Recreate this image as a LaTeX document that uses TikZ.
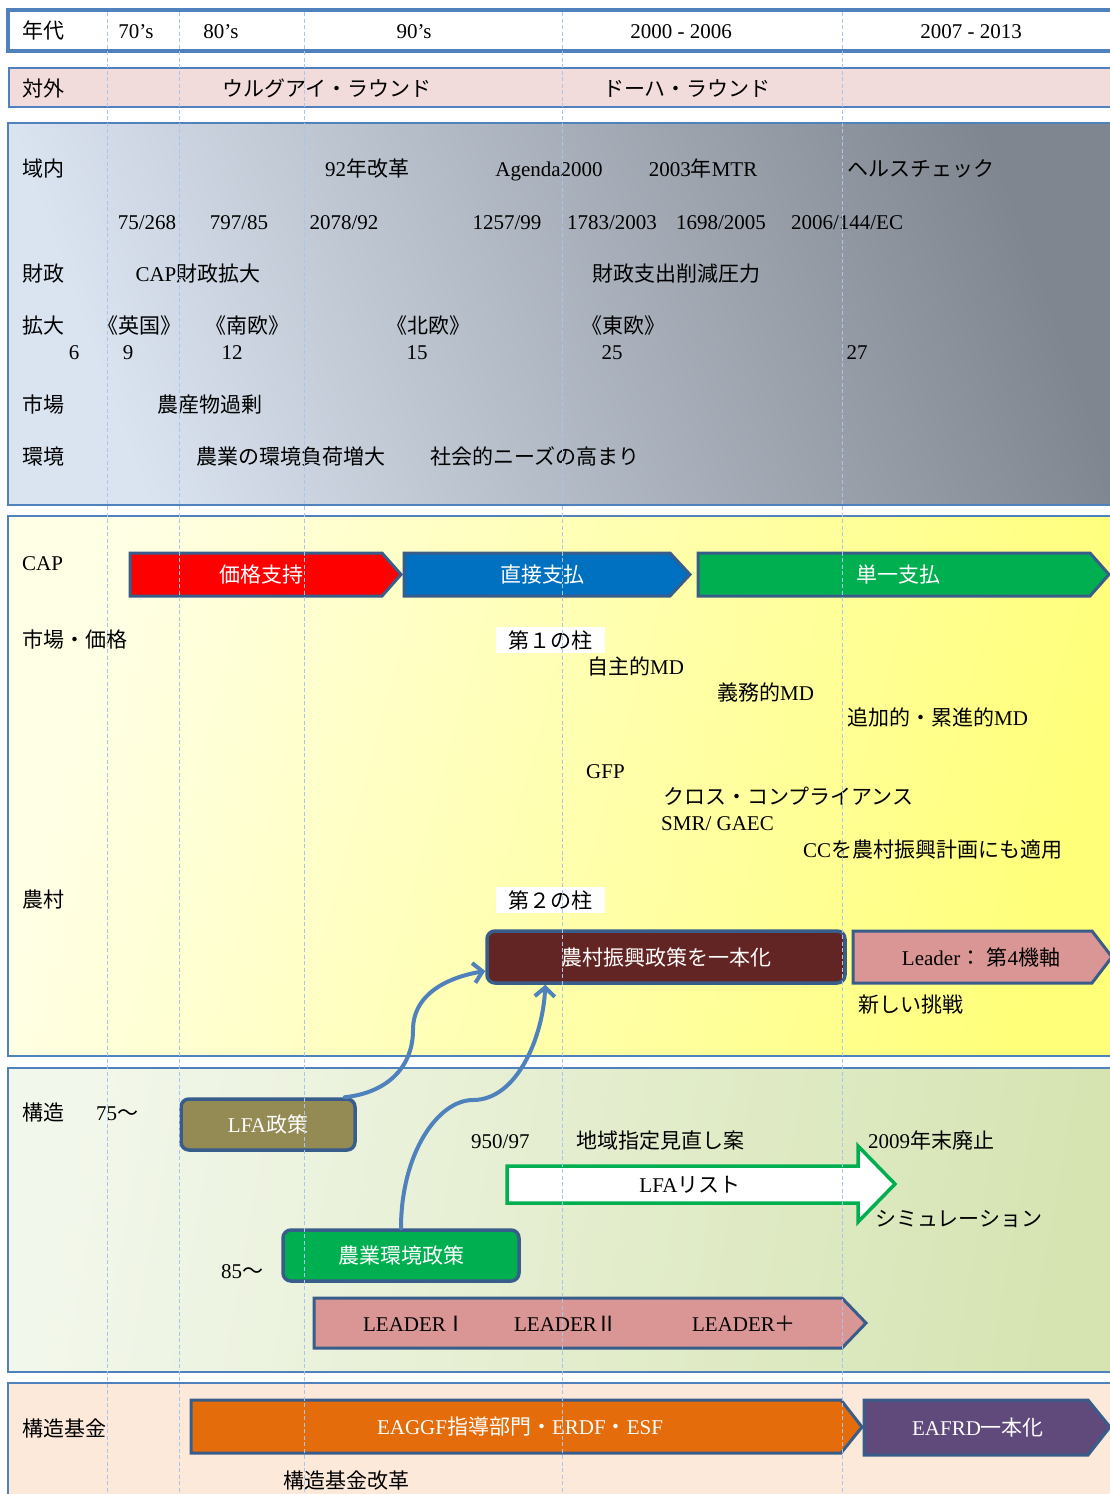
\documentclass[tikz,border=0pt]{standalone}
\usepackage{fontspec}
\setmainfont{Liberation Serif}
\newfontfamily\jp{Noto Sans CJK JP}
\usetikzlibrary{arrows.meta}
\definecolor{secblue}{HTML}{4F81BD}
\definecolor{arrblue}{HTML}{385D8A}
\definecolor{dashblue}{HTML}{A9C6EA}
\definecolor{connblue}{HTML}{4F81BD}
\definecolor{pinkbg}{HTML}{F2DCDB}
\definecolor{greyA}{HTML}{DAE3F0}
\definecolor{greyB}{HTML}{B4BCC9}
\definecolor{greyC}{HTML}{80868F}
\definecolor{yelA}{HTML}{FFFFE6}
\definecolor{yelB}{HTML}{FFFF7A}
\definecolor{grnA}{HTML}{F2F7EB}
\definecolor{grnB}{HTML}{D6E4B2}
\definecolor{peach}{HTML}{FDE9D9}
\definecolor{cred}{HTML}{FF0000}
\definecolor{cblue}{HTML}{0070C0}
\definecolor{cgreen}{HTML}{00B050}
\definecolor{cbrown}{HTML}{632523}
\definecolor{cpink}{HTML}{D99694}
\definecolor{colive}{HTML}{948A54}
\definecolor{corange}{HTML}{E46C0A}
\definecolor{cpurple}{HTML}{604A7B}
\begin{document}
\begin{tikzpicture}[x=1pt,y=-1pt,
  every node/.style={font=\fontsize{21}{24}\selectfont, inner sep=0pt},
  tl/.style={anchor=base west, yshift=-7.5pt},
  tc/.style={anchor=base, yshift=-7.5pt},
  sec/.style={draw=secblue, line width=1.2pt},
  arrshape/.style={draw=arrblue, line width=3pt, line join=miter},
  rbox/.style={draw=arrblue, line width=3.5pt, rounded corners=8pt, text=white},
  wt/.style={text=white},
  pillar/.style={fill=white, minimum width=109pt, minimum height=26pt},
  dline/.style={draw=dashblue, line width=0.9pt, dash pattern=on 4pt off 2.5pt},
  conn/.style={draw=connblue, line width=4pt, line cap=round, -{Straight Barb[length=9pt,width=20pt]}}
]
\useasboundingbox (0,0) rectangle (1110,1494);
\clip (0,0) rectangle (1110,1494);
\fill[white] (0,0) rectangle (1110,1494);

% ---- sections
\draw[line width=3.5pt, draw=secblue, fill=white] (8,10) rectangle (1125,51);
\draw[sec, fill=pinkbg] (9,68) rectangle (1125,107);
\draw[sec, top color=greyC, middle color=greyB, bottom color=greyA, shading angle=-70] (8,123) rectangle (1125,505);
\draw[sec, top color=yelB, bottom color=yelA, shading angle=-105] (8,516) rectangle (1125,1056);
\draw[sec, top color=grnB, bottom color=grnA, shading angle=-100] (8,1068) rectangle (1125,1372);
\draw[sec, fill=peach] (8,1383) rectangle (1125,1510);

% ---- header
\node[tl] (h0) at (22,31) {\jp 年代};
\node[tc] (h70) at (136,31) {70’s};
\node[tc] (h80) at (221,31) {80’s};
\node[tc] (h90) at (414,31) {90’s};
\node[tc] (h00) at (681,31) {2000 - 2006};
\node[tc] (h07) at (971,31) {2007 - 2013};

% ---- external
\node[tl] (ext) at (22,89) {\jp 対外};
\node[tc] (ur) at (327,89) {\jp ウルグアイ・ラウンド};
\node[tc] (doha) at (687,89) {\jp ドーハ・ラウンド};

% ---- grey section
\node[tl] (l1) at (22,169) {\jp 域内};
\node[tc] (r92) at (367,169) {92{\jp 年改革}};
\node[tc] (ag) at (549,169) {Agenda2000};
\node[tc] (mtr) at (703,169) {2003{\jp 年}MTR};
\node[tl] (hc) at (847,169) {\jp ヘルスチェック};

\node[tc] (g1) at (147,222) {75/268};
\node[tc] (g2) at (239,222) {797/85};
\node[tc] (g3) at (344,222) {2078/92};
\node[tc] (g4) at (507,222) {1257/99};
\node[tc] (g5) at (612,222) {1783/2003};
\node[tc] (g6) at (721,222) {1698/2005};
\node[tc] (g7) at (847,222) {2006/144/EC};

\node[tl] (l2) at (22,274) {\jp 財政};
\node[tc] (fin1) at (198,274) {CAP{\jp 財政拡大}};
\node[tc] (fin2) at (676,274) {\jp 財政支出削減圧力};

\node[tl] (l3) at (22,326) {\jp 拡大};
\node[tc] (e1) at (139,326) {\jp 《英国》};
\node[tc] (e2) at (247,326) {\jp 《南欧》};
\node[tc] (e3) at (428,326) {\jp 《北欧》};
\node[tc] (e4) at (623,326) {\jp 《東欧》};
\node[tc] (n6) at (74,352) {6};
\node[tc] (n9) at (128,352) {9};
\node[tc] (n12) at (232,352) {12};
\node[tc] (n15) at (417,352) {15};
\node[tc] (n25) at (612,352) {25};
\node[tc] (n27) at (857,352) {27};

\node[tl] (l4) at (22,405) {\jp 市場};
\node[tc] (mk) at (210,405) {\jp 農産物過剰};
\node[tl] (l5) at (22,457) {\jp 環境};
\node[tc] (env1) at (291,457) {\jp 農業の環境負荷増大};
\node[tc] (env2) at (535,457) {\jp 社会的ニーズの高まり};

% ---- yellow section
\node[tl] (l6) at (22,563) {CAP};
\draw[arrshape, fill=cred] (130,553) -- (382,553) -- (401,574.5) -- (382,596) -- (130,596) -- cycle;
\node[tc, wt] (price) at (261,575) {\jp 価格支持};
\draw[arrshape, fill=cblue] (404,553) -- (670,553) -- (690,574.5) -- (670,596) -- (404,596) -- cycle;
\node[tc, wt] (direct) at (542,575) {\jp 直接支払};
\draw[arrshape, fill=cgreen] (698,553) -- (1090,553) -- (1109,574.5) -- (1090,596) -- (698,596) -- cycle;
\node[tc, wt] (single) at (898,575) {\jp 単一支払};

\node[tl] (l7) at (22,640) {\jp 市場・価格};
\node[pillar] (p1) at (550.5,640) {\jp 第１の柱};
\node[tl] (md1) at (587,667) {{\jp 自主的}MD};
\node[tl] (md2) at (717,693) {{\jp 義務的}MD};
\node[tl] (md3) at (847,718) {{\jp 追加的・累進的}MD};
\node[tl] (gfp) at (586,771) {GFP};
\node[tl] (cc) at (663,797) {\jp クロス・コンプライアンス};
\node[tl] (smr) at (661,823) {SMR/ GAEC};
\node[tl] (cc2) at (803,850) {CC{\jp を農村振興計画にも適用}};

\node[tl] (l8) at (22,900) {\jp 農村};
\node[pillar] (p2) at (550.5,900) {\jp 第２の柱};
\node[rbox, fill=cbrown, minimum width=358pt, minimum height=52pt] (rural) at (666,957) {\jp 農村振興政策を一本化};
\draw[arrshape, fill=cpink] (853,931) -- (1092,931) -- (1112,957) -- (1092,983) -- (853,983) -- cycle;
\node[tc] (leader4) at (981,958) {Leader{\jp ：} {\jp 第}4{\jp 機軸}};
\node[tl] (newc) at (858,1005) {\jp 新しい挑戦};

% ---- green section
\node[tl] (l9) at (22,1113) {\jp 構造};
\node[tl] (y75) at (96,1113) {75{\jp ～}};
\node[rbox, fill=colive, minimum width=174pt, minimum height=51pt] (lfa) at (268,1124.5) {LFA{\jp 政策}};
\node[tl] (r950) at (471,1141) {950/97};
\node[tl] (rev) at (576,1141) {\jp 地域指定見直し案};
\node[tl] (ab) at (868,1141) {2009{\jp 年末廃止}};
\draw[draw=cgreen, line width=3.5pt, fill=white, line join=miter] (507,1166) -- (858,1166) -- (858,1146) -- (895,1184) -- (858,1222) -- (858,1203) -- (507,1203) -- cycle;
\node[tc] (lfalist) at (690,1185) {LFA{\jp リスト}};
\node[tl] (sim) at (875,1219) {\jp シミュレーション};
\node[rbox, fill=cgreen, minimum width=236pt, minimum height=51pt] (agri) at (401,1255.5) {\jp 農業環境政策};
\node[tl] (y85) at (221,1271) {85{\jp ～}};
\draw[arrshape, fill=cpink] (314,1298) -- (842,1298) -- (866,1323) -- (842,1348) -- (314,1348) -- cycle;
\node[tc] (ld1) at (415,1324) {LEADER{\jp Ⅰ}};
\node[tc] (ld2) at (566,1324) {LEADER{\jp Ⅱ}};
\node[tc] (ld3) at (744,1324) {LEADER{\jp ＋}};

% ---- peach section
\node[tl] (l10) at (22,1429) {\jp 構造基金};
\draw[arrshape, fill=corange] (191,1400) -- (841,1400) -- (862,1427) -- (841,1453) -- (191,1453) -- cycle;
\node[tc, wt] (eaggf) at (520,1427) {EAGGF{\jp 指導部門・}ERDF{\jp ・}ESF};
\draw[arrshape, fill=cpurple] (864,1400) -- (1088,1400) -- (1110,1427) -- (1088,1455) -- (864,1455) -- cycle;
\node[tc, wt] (eafrd) at (978,1428) {EAFRD{\jp 一本化}};
\node[tl] (sfr) at (283,1481) {\jp 構造基金改革};

% ---- connectors
\draw[conn] ([xshift=-12pt]lfa.north east) .. controls +(45,-5) and +(0,35) .. (413,1030) .. controls +(0,-40) and +(-30,5) .. ([yshift=-14pt]rural.west);
\draw[conn] (agri.north) .. controls +(0,-75) and +(-35,0) .. (473,1100) .. controls +(45,0) and +(-2,50) .. ([xshift=60pt]rural.south west);

% ---- dashed guides
\foreach \gx in {107,179,304,562,842} \draw[dline] (\gx,12) -- (\gx,1494);
\end{tikzpicture}
\end{document}
